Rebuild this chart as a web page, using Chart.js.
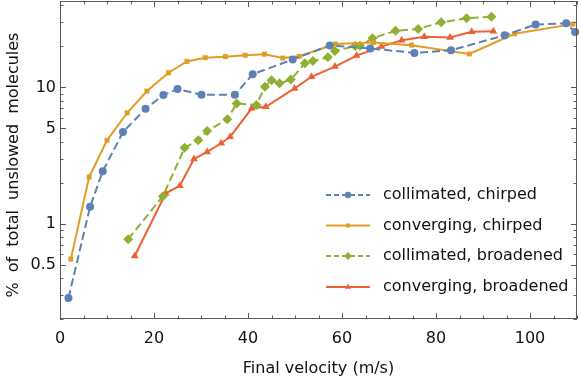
<!DOCTYPE html>
<html>
<head>
<meta charset="utf-8">
<script src="https://cdn.jsdelivr.net/npm/chart.js@4.4.1/dist/chart.umd.min.js"></script>
<style>
  html, body { margin: 0; padding: 0; background: #fff; overflow: hidden; }
  #wrap { width: 581px; height: 378px; overflow: hidden; }
  /* canvas is slightly larger: Chart.js keeps a point-radius margin round the plot */
  #chart { display: block; margin-top: -4px; }
</style>
</head>
<body>
<div id="wrap"><canvas id="chart" width="585" height="382"></canvas></div>
<script>
// values: x = final velocity (m/s), y = % of total unslowed molecules
const seriesNames = ['collimated, chirped', 'converging, chirped', 'collimated, broadened', 'converging, broadened'];

const colChirpX = [1.8, 6.4, 9.1, 13.4, 18.2, 22.0, 25.0, 30.1, 37.2, 41.0, 49.5, 57.4, 66.0, 75.4, 83.2, 94.6, 101.2, 107.7, 109.6];
const colChirpY = [0.285, 1.33, 2.43, 4.7, 6.97, 8.78, 9.72, 8.83, 8.83, 12.5, 16.0, 20.3, 19.3, 17.9, 18.7, 24.1, 28.9, 29.5, 25.5];

const convChirpX = [2.3, 6.2, 10.0, 14.3, 18.5, 23.1, 27.0, 30.9, 35.2, 39.4, 43.5, 47.4, 50.9, 58.6, 66.7, 74.8, 87.1, 96.7, 109.1];
const convChirpY = [0.55, 2.2, 4.09, 6.51, 9.39, 12.8, 15.5, 16.5, 16.8, 17.2, 17.5, 16.4, 16.9, 20.8, 21.3, 20.4, 17.6, 24.7, 29.1];

const colBroadX = [14.5, 21.9, 26.5, 29.4, 31.3, 35.6, 37.6, 41.8, 43.6, 45.0, 46.7, 49.1, 52.1, 53.8, 57.0, 58.5, 62.8, 63.8, 66.5, 71.4, 76.2, 81.1, 86.5, 91.8];
const colBroadY = [0.77, 1.59, 3.6, 4.1, 4.78, 5.83, 7.63, 7.42, 10.1, 11.3, 10.7, 11.4, 15.0, 15.6, 16.6, 18.5, 20.1, 20.2, 22.9, 26.0, 26.8, 30.0, 32.1, 32.9];

const convBroadX = [15.9, 22.5, 25.5, 28.5, 31.3, 34.3, 36.2, 40.8, 43.8, 49.9, 53.5, 58.5, 63.1, 68.4, 72.7, 77.5, 83.0, 87.6, 92.2];
const convBroadY = [0.58, 1.67, 1.9, 2.98, 3.36, 3.89, 4.34, 7.02, 7.21, 9.83, 11.96, 14.2, 17.1, 19.9, 22.2, 23.5, 23.2, 25.6, 25.8];

const xTickLabels = [0, 20, 40, 60, 80, 100];
const yTickLabels = [0.5, 1, 5, 10];

const blue = '#5E81B5', orange = '#E19C24', green = '#8FB032', red = '#EB6235';
const frameColor = '#5a5a5a';
const font = { family: 'DejaVu Sans', size: 16 };

function pts(xs, ys) { return xs.map((x, i) => ({ x: x, y: ys[i] })); }

// tick positions (minor every 5 on x, 1..9 per decade on y)
const xTicks = [];
for (let v = 0; v <= 110; v += 5) xTicks.push(v);
const yTicks = [];
[0.1, 1, 10].forEach(d => {
    for (let k = 1; k <= 9; k++) {
        const v = +(k * d).toPrecision(3);
        if (v >= 0.2 && v <= 43) yTicks.push(v);
    }
});

// frame with inward ticks on all four sides + legend inside the plot
const framePlugin = {
    id: 'frameTicks',
    afterDatasetsDraw(chart) {
        const { ctx, chartArea: a, scales } = chart;
        ctx.save();
        ctx.strokeStyle = frameColor;
        ctx.lineWidth = 1;
        ctx.strokeRect(a.left + 0.5, a.top + 0.5, a.right - a.left - 1, a.bottom - a.top - 1);
        ctx.beginPath();
        xTicks.forEach(v => {
            const px = Math.round(scales.x.getPixelForValue(v)) + 0.5;
            const len = xTickLabels.includes(v) ? 6 : 3.5;
            ctx.moveTo(px, a.bottom); ctx.lineTo(px, a.bottom - len);
            ctx.moveTo(px, a.top); ctx.lineTo(px, a.top + len);
        });
        yTicks.forEach(v => {
            const py = Math.round(scales.y.getPixelForValue(v)) + 0.5;
            const len = yTickLabels.includes(v) ? 6 : 3.5;
            ctx.moveTo(a.left, py); ctx.lineTo(a.left + len, py);
            ctx.moveTo(a.right, py); ctx.lineTo(a.right - len, py);
        });
        ctx.stroke();

        // legend
        const rows = [195, 225.5, 256, 287].map(r => r + a.top - 1);
        const x0 = a.right - 251, x1 = a.right - 207, tx = a.right - 194;
        chart.data.datasets.forEach((ds, i) => {
            const y = rows[i];
            ctx.strokeStyle = ds.borderColor;
            ctx.lineWidth = 2;
            ctx.setLineDash(ds.borderDash.length ? [5, 3] : []);
            ctx.beginPath();
            ctx.moveTo(x0, y); ctx.lineTo(x1, y);
            ctx.stroke();
            ctx.setLineDash([]);
            ctx.fillStyle = ds.pointBackgroundColor;
            Chart.helpers.drawPoint(ctx, {
                pointStyle: ds.pointStyle, radius: ds.pointRadius * 0.8, rotation: 0, borderWidth: 0
            }, (x0 + x1) / 2, y);
            ctx.fillStyle = '#111';
            ctx.font = '16px "DejaVu Sans"';
            ctx.textBaseline = 'middle';
            ctx.textAlign = 'left';
            ctx.fillText(ds.label, tx, y);
        });
        ctx.restore();
    }
};

function series(label, xs, ys, color, style, radius, dash) {
    return {
        label: label,
        data: pts(xs, ys),
        borderColor: color,
        backgroundColor: color,
        pointBackgroundColor: color,
        pointBorderWidth: 0,
        pointStyle: style,
        pointRadius: radius,
        borderWidth: 2,
        borderDash: dash,
        tension: 0,
        clip: false
    };
}

new Chart(document.getElementById('chart'), {
    type: 'line',
    data: {
        datasets: [
            series(seriesNames[0], colChirpX, colChirpY, blue, 'circle', 4, [8, 4]),
            series(seriesNames[1], convChirpX, convChirpY, orange, 'rect', 3.5, []),
            series(seriesNames[2], colBroadX, colBroadY, green, 'rectRot', 5, [8, 4]),
            series(seriesNames[3], convBroadX, convBroadY, red, 'triangle', 4.5, [])
        ]
    },
    options: {
        responsive: false,
        animation: false,
        layout: { padding: { top: 0, right: 8, left: 0, bottom: 0 } },
        plugins: { legend: { display: false }, tooltip: { enabled: false } },
        scales: {
            x: {
                type: 'linear', min: 0, max: 110,
                afterBuildTicks: s => { s.ticks = xTicks.map(v => ({ value: v })); },
                afterFit: s => { s.height = 59; s.paddingLeft = 0; s.paddingRight = 0; },
                grid: { display: false, drawTicks: false },
                border: { display: false },
                ticks: {
                    autoSkip: false, maxRotation: 0, padding: 10, color: '#111', font: font,
                    callback: v => xTickLabels.includes(v) ? String(v) : ''
                },
                title: { display: true, text: 'Final velocity (m/s)', color: '#111', font: font, padding: { top: 0, bottom: 0 } }
            },
            y: {
                type: 'logarithmic', min: 0.2, max: 43,
                afterBuildTicks: s => { s.ticks = yTicks.map(v => ({ value: v })); },
                afterFit: s => { s.width = 60; s.paddingTop = 0; s.paddingBottom = 0; },
                grid: { display: false, drawTicks: false },
                border: { display: false },
                ticks: {
                    autoSkip: false, padding: 4, color: '#111', font: font,
                    callback: v => yTickLabels.includes(v) ? String(v) : ''
                },
                title: { display: true, text: '%  of  total  unslowed  molecules  ', color: '#111', font: font, padding: { top: 4, bottom: 0 } }
            }
        }
    },
    plugins: [framePlugin]
});
</script>
</body>
</html>
